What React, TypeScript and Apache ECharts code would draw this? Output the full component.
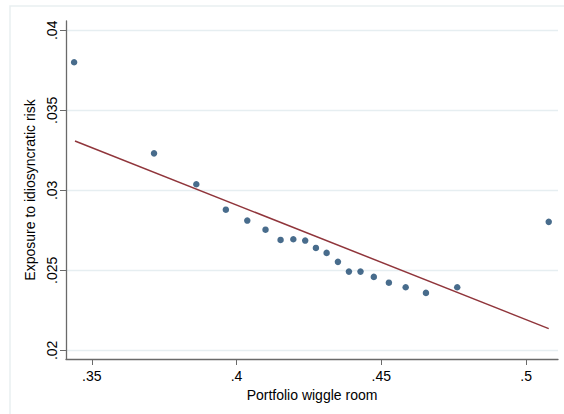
import React, { useEffect, useRef } from "react";
import * as echarts from "echarts";

const wiggleRoom = [0.3439, 0.3715, 0.3861, 0.3963, 0.4037, 0.41, 0.4152, 0.4196, 0.4237, 0.4274, 0.4311, 0.435, 0.4388, 0.4428, 0.4474, 0.4526, 0.4584, 0.4654, 0.4762, 0.5078];
const exposure = [0.038, 0.03231, 0.03038, 0.02879, 0.02811, 0.02754, 0.0269, 0.02694, 0.02686, 0.0264, 0.02609, 0.02553, 0.02492, 0.02492, 0.02459, 0.02423, 0.02394, 0.02359, 0.02394, 0.02803];
const fitX = [0.3442, 0.5078];
const fitY = [0.03308, 0.02136];
const xTicks = [0.35, 0.4, 0.45, 0.5];
const yTicks = [0.02, 0.025, 0.03, 0.035, 0.04];

const fmt = (v: number) => String(v).replace(/^0/, "");

export default function App() {
  const ref = useRef<HTMLDivElement>(null);
  useEffect(() => {
    const chart = echarts.init(ref.current!, null, { renderer: "svg" });
    const font = "Liberation Sans, Arial, sans-serif";
    chart.setOption({
      animation: false,
      backgroundColor: "#ffffff",
      textStyle: { fontFamily: font },
      graphic: [
        {
          type: "rect",
          shape: { x: 10, y: 6, width: 700, height: 500 },
          style: { fill: "none", stroke: "#e9eff1", lineWidth: 1.5 },
          silent: true,
        },
      ],
      grid: { left: 66, top: 21, width: 492, height: 338, containLabel: false },
      xAxis: {
        type: "value",
        min: 0.3411,
        max: 0.511,
        name: "Portfolio wiggle room",
        nameLocation: "middle",
        nameGap: 24,
        nameTextStyle: { fontSize: 14, color: "#000", fontFamily: font },
        axisLine: { show: true, lineStyle: { color: "#6a6a6a", width: 1.3 } },
        axisTick: { show: true, length: 6, lineStyle: { color: "#6a6a6a" }, customValues: xTicks },
        axisLabel: { fontSize: 14, color: "#000", margin: 10, customValues: xTicks, formatter: fmt, fontFamily: font },
        splitLine: { show: false },
      },
      yAxis: {
        type: "value",
        min: 0.01946,
        max: 0.04058,
        name: "Exposure to idiosyncratic risk",
        nameLocation: "middle",
        nameRotate: 90,
        nameGap: 22,
        nameTextStyle: { fontSize: 14, color: "#000", fontFamily: font },
        axisLine: { show: true, lineStyle: { color: "#6a6a6a", width: 1.3 } },
        axisTick: { show: true, length: 6, lineStyle: { color: "#6a6a6a" }, customValues: yTicks },
        axisLabel: { fontSize: 14, color: "#000", margin: 7, rotate: 90, customValues: yTicks, formatter: fmt, fontFamily: font },
        splitLine: { show: true, lineStyle: { color: "#e6eef1", width: 1.3 } },
      },
      series: [
        {
          type: "line",
          data: fitX.map((x, i) => [x, fitY[i]]),
          showSymbol: false,
          symbol: "none",
          lineStyle: { color: "#90353b", width: 1.5 },
          z: 2,
        },
        {
          type: "scatter",
          data: wiggleRoom.map((x, i) => [x, exposure[i]]),
          symbol: "circle",
          symbolSize: 6.5,
          itemStyle: { color: "#1a476f" },
          z: 3,
        },
      ],
    });
    return () => chart.dispose();
  }, []);
  return <div ref={ref} style={{ position: "fixed", left: 0, top: 0, width: 564, height: 414 }} />;
}
